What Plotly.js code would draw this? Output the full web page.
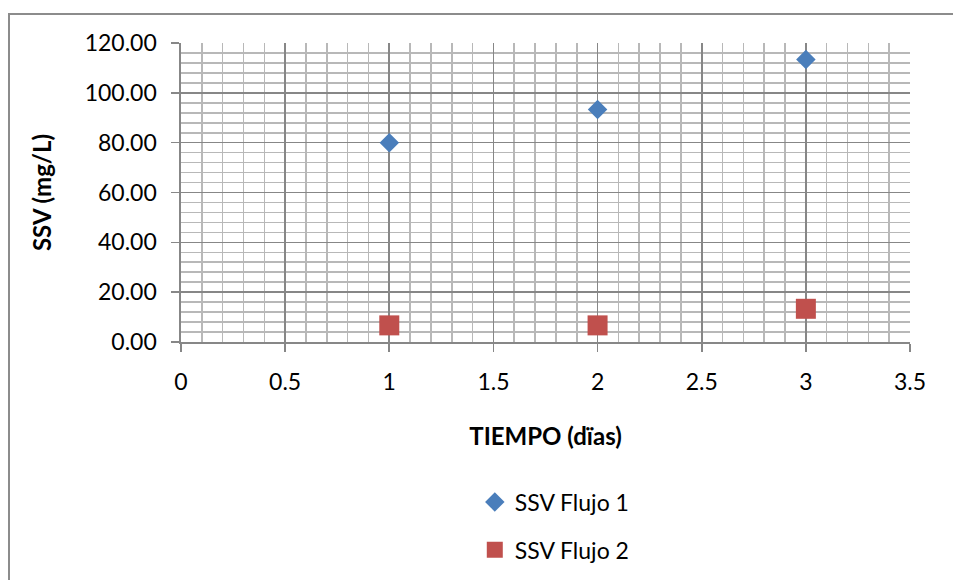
<!DOCTYPE html>
<html>
<head>
<meta charset="utf-8">
<script src="https://cdn.plot.ly/plotly-3.0.1.min.js"></script>
<style>
html,body{margin:0;padding:0;background:#fff;overflow:hidden;}
#chart{width:953px;height:580px;position:absolute;left:0;top:0;}
#frame{position:absolute;left:8px;top:13px;width:2000px;height:2000px;border:2px solid #8c8c8c;pointer-events:none;}
</style>
</head>
<body>
<div id="chart"></div>
<div id="frame"></div>
<script>
const dias = [1, 2, 3];
const ssvFlujo1 = [80.0, 93.33, 113.33];
const ssvFlujo2 = [6.67, 6.67, 13.33];
const seriesNames = ["SSV Flujo 1", "SSV Flujo 2"];
const xTitle = "TIEMPO (dïas)";
const yTitle = "SSV (mg/L)";

const FONT = "Lato, 'Open Sans', sans-serif";
const MAJOR = "#878787";
const MINOR = "#b8b8b8";

const traces = [
  {x: dias, y: ssvFlujo1, name: seriesNames[0], type: "scatter", mode: "markers",
   legendgroup: "a",
   marker: {symbol: "diamond", size: 15, color: "#4a7ebb"}},
  {x: dias, y: ssvFlujo2, name: seriesNames[1], type: "scatter", mode: "markers",
   legendgroup: "b",
   marker: {symbol: "square", size: 20, color: "#c0504d"}}
];

const layout = {
  width: 953, height: 580,
  margin: {l: 181, r: 43, t: 43, b: 238},
  paper_bgcolor: "#ffffff", plot_bgcolor: "#ffffff",
  font: {family: FONT, size: 23, color: "#000"},
  showlegend: true,
  legend: {x: 0.403, xanchor: "left", xref: "paper",
           y: 0.1716, yanchor: "top", yref: "container",
           orientation: "v", tracegroupgap: 15, itemwidth: 30,
           font: {family: FONT, size: 23, color: "#000"}, bgcolor: "rgba(0,0,0,0)"},
  xaxis: {
    range: [0, 3.5], dtick: 0.5, tick0: 0,
    showgrid: true, gridcolor: MAJOR, gridwidth: 1.6,
    minor: {dtick: 0.1, showgrid: true, gridcolor: MINOR, gridwidth: 1.6},
    zeroline: false, showline: true, linecolor: MAJOR, linewidth: 1.6,
    ticks: "outside", ticklen: 8, tickcolor: MAJOR, tickwidth: 1.6,
    ticklabelstandoff: 11,
    tickfont: {family: FONT, size: 23, color: "#000"},
    title: {text: xTitle, standoff: 34, font: {family: FONT, size: 24, color: "#000", weight: "bold"}},
    fixedrange: true
  },
  yaxis: {
    range: [0, 120], dtick: 20, tick0: 0, tickformat: ".2f",
    showgrid: true, gridcolor: MAJOR, gridwidth: 1.6,
    minor: {dtick: 4, showgrid: true, gridcolor: MINOR, gridwidth: 1.6},
    zeroline: false, showline: true, linecolor: MAJOR, linewidth: 1.6,
    ticks: "outside", ticklen: 8, tickcolor: MAJOR, tickwidth: 1.6,
    ticklabelstandoff: 10,
    tickfont: {family: FONT, size: 23, color: "#000"},
    title: {text: yTitle, standoff: 26, font: {family: FONT, size: 24, color: "#000", weight: "bold"}},
    fixedrange: true
  }
};

Plotly.newPlot("chart", traces, layout, {displayModeBar: false, staticPlot: true});
</script>
</body>
</html>
